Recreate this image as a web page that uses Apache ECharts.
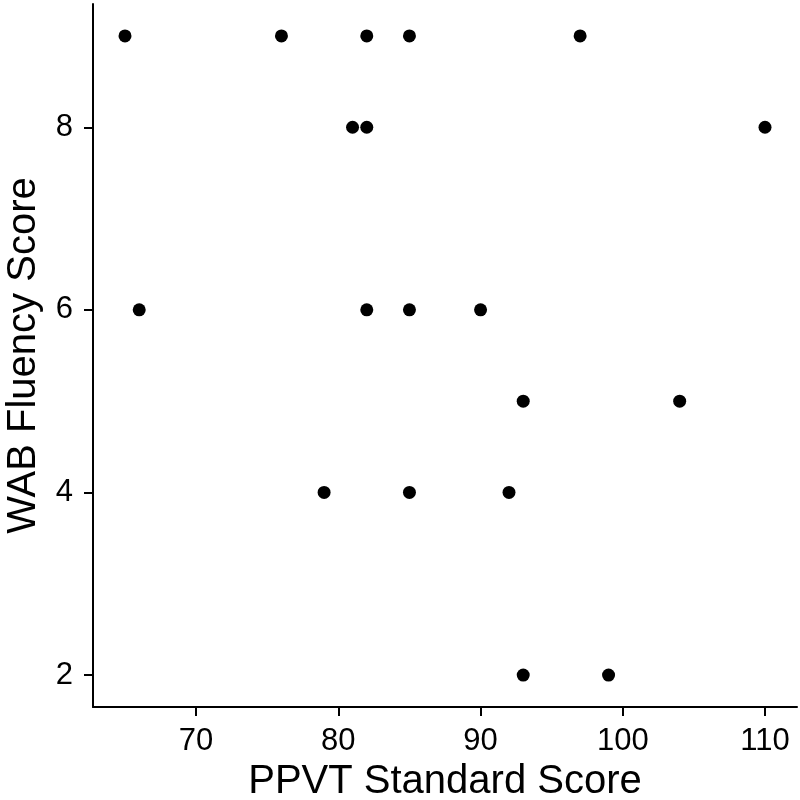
<!DOCTYPE html>
<html>
<head>
<meta charset="utf-8">
<script src="https://cdn.jsdelivr.net/npm/echarts@6/dist/echarts.min.js"></script>
<style>html,body{margin:0;padding:0;background:#fff}#c{width:800px;height:800px}</style>
</head>
<body>
<div id="c"></div>
<script>
const ppvt = [65, 76, 82, 85, 97, 81, 82, 110, 66, 82, 85, 90, 93, 104, 79, 85, 92, 93, 99];
const wab  = [9, 9, 9, 9, 9, 8, 8, 8, 6, 6, 6, 6, 5, 5, 4, 4, 4, 2, 2];
const xTicks = [70, 80, 90, 100, 110];
const yTicks = [2, 4, 6, 8];
const xTitle = 'PPVT Standard Score';
const yTitle = 'WAB Fluency Score';

const points = ppvt.map((x, i) => [x, wab[i]]);
const font = 'Liberation Sans, Arial, Helvetica, sans-serif';

const chart = echarts.init(document.getElementById('c'), null, {renderer: 'canvas'});
chart.setOption({
  backgroundColor: '#fff',
  animation: false,
  grid: {left: 93, right: 3, top: 4, bottom: 93, containLabel: false, outerBoundsMode: 'none'},
  xAxis: {
    type: 'value', min: 62.75, max: 112.25,
    name: xTitle, nameLocation: 'middle', nameGap: 55,
    nameTextStyle: {fontFamily: font, fontSize: 40, color: '#000'},
    axisLine: {show: true, onZero: false, lineStyle: {color: '#000', width: 2}},
    axisTick: {show: true, length: 9, lineStyle: {color: '#000', width: 2}, customValues: xTicks},
    axisLabel: {fontFamily: font, fontSize: 31, color: '#000', margin: 19, customValues: xTicks},
    splitLine: {show: false}
  },
  yAxis: {
    type: 'value', min: 1.65, max: 9.35,
    name: yTitle, nameLocation: 'middle', nameGap: 49,
    nameTextStyle: {fontFamily: font, fontSize: 40, color: '#000'},
    axisLine: {show: true, onZero: false, lineStyle: {color: '#000', width: 2}},
    axisTick: {show: true, length: 9, lineStyle: {color: '#000', width: 2}, customValues: yTicks},
    axisLabel: {fontFamily: font, fontSize: 31, color: '#000', margin: 20, customValues: yTicks},
    splitLine: {show: false}
  },
  series: [{
    type: 'scatter', data: points, symbol: 'circle', symbolSize: 13,
    itemStyle: {color: '#000', opacity: 1}
  }]
});
</script>
</body>
</html>
